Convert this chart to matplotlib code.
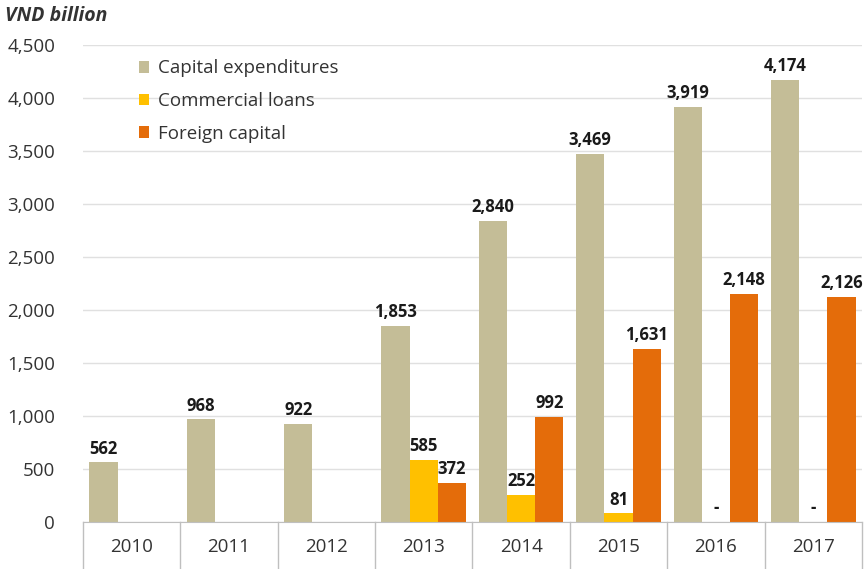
import matplotlib.pyplot as plt
import matplotlib.transforms as mtransforms
import numpy as np

plt.rcParams['font.family'] = ['Open Sans', 'DejaVu Sans']

years = ["2010", "2011", "2012", "2013", "2014", "2015", "2016", "2017"]
capex = [562, 968, 922, 1853, 2840, 3469, 3919, 4174]
loans = [np.nan, np.nan, np.nan, 585, 252, 81, 0, 0]
foreign = [np.nan, np.nan, np.nan, 372, 992, 1631, 2148, 2126]

series = [
    ("Capital expenditures", capex, "#C4BD97"),
    ("Commercial loans", loans, "#FFC000"),
    ("Foreign capital", foreign, "#E46C0A"),
]


def fmt(v):
    if v == 0:
        return "-"
    return f"{v:,.0f}"


fig = plt.figure(figsize=(8.66, 5.69), dpi=100)
ax = fig.add_axes([0.0958, 0.0826, 0.8995, 0.8383])

x = np.arange(len(years))
width = 0.29
for i, (name, vals, color) in enumerate(series):
    pos = x + (i - 1) * width
    vals = np.array(vals, dtype=float)
    ax.bar(pos, vals, width=width, color=color, label=name, zorder=2)
    for p, v in zip(pos, vals):
        if np.isnan(v):
            continue
        ax.annotate(fmt(v), (p, v), xytext=(0, 3.5), textcoords="offset points",
                    ha="center", va="bottom", fontsize=12, fontweight="bold",
                    color="#1a1a1a")

ax.set_xlim(-0.5, len(years) - 0.5)
ax.set_ylim(0, 4500)
ax.set_yticks(np.arange(0, 4501, 500))
ax.set_yticklabels([f"{t:,}" for t in range(0, 4501, 500)])
ax.tick_params(axis="y", length=0, pad=20, labelsize=13.5, labelcolor="#333333")
ax.grid(axis="y", color="#E0E0E0", linewidth=1, zorder=0)
ax.set_axisbelow(True)
for s in ["top", "right", "left"]:
    ax.spines[s].set_visible(False)
ax.spines["bottom"].set_color("#BFBFBF")

# category labels drawn as a row of boxes under the axis
ax.set_xticks([])
trans = mtransforms.blended_transform_factory(ax.transData, ax.transAxes)
for b in np.arange(-0.5, len(years), 1.0):
    ax.plot([b, b], [0, -0.12], color="#BFBFBF", lw=1, transform=trans, clip_on=False)
for xi, yr in zip(x, years):
    ax.text(xi, -0.053, yr, transform=trans, ha="center", va="center",
            fontsize=13.5, color="#333333")

ax.legend(loc="upper left", bbox_to_anchor=(0.05, 1.005), frameon=False,
          fontsize=13.5, handlelength=0.55, handleheight=0.55, handletextpad=0.5,
          labelspacing=0.78, labelcolor="#333333")

fig.text(0.006, 0.972, "VND billion", fontsize=14, fontweight="bold",
         fontstyle="italic", color="#333333", ha="left", va="center")

fig.savefig("out.png", dpi=100)
